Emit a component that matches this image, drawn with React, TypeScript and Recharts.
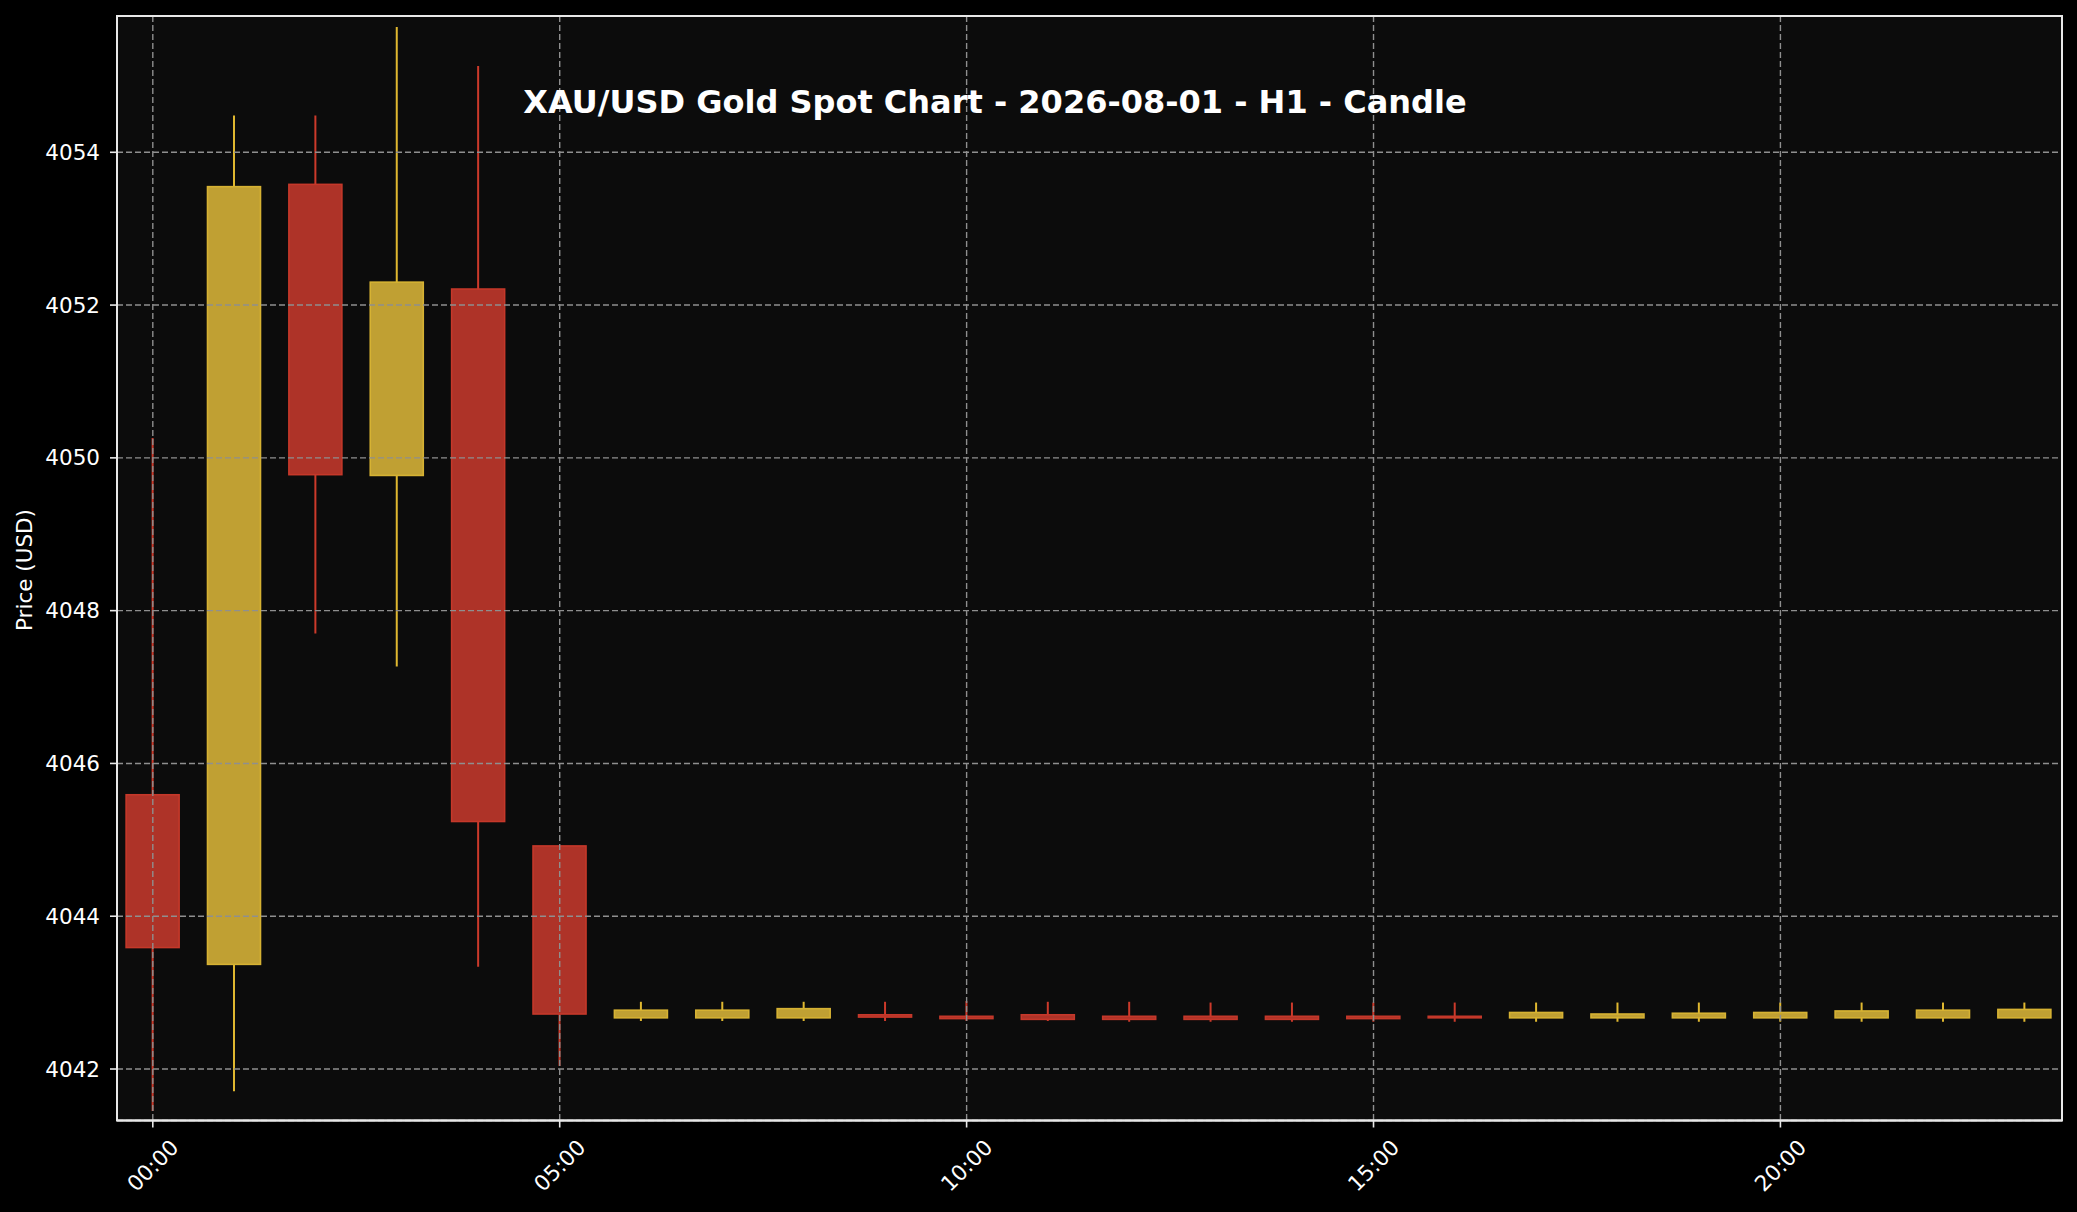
import { ComposedChart, Bar, XAxis, YAxis, CartesianGrid } from 'recharts'

const hours = [0, 1, 2, 3, 4, 5, 6, 7, 8, 9, 10, 11, 12, 13, 14, 15, 16, 17, 18, 19, 20, 21, 22, 23]
const opens = [4045.59, 4043.37, 4053.58, 4049.77, 4052.21, 4044.92, 4042.67, 4042.67, 4042.67, 4042.71, 4042.69, 4042.71, 4042.69, 4042.69, 4042.69, 4042.69, 4042.69, 4042.67, 4042.67, 4042.67, 4042.67, 4042.67, 4042.67, 4042.67]
const highs = [4050.26, 4054.48, 4054.48, 4055.64, 4055.13, 4044.92, 4042.88, 4042.88, 4042.88, 4042.88, 4042.89, 4042.88, 4042.88, 4042.87, 4042.87, 4042.87, 4042.87, 4042.87, 4042.87, 4042.87, 4042.87, 4042.87, 4042.87, 4042.87]
const lows = [4041.45, 4041.71, 4047.7, 4047.27, 4043.34, 4042.04, 4042.63, 4042.63, 4042.63, 4042.63, 4042.63, 4042.63, 4042.62, 4042.62, 4042.62, 4042.62, 4042.62, 4042.62, 4042.62, 4042.62, 4042.62, 4042.62, 4042.62, 4042.62]
const closes = [4043.59, 4053.55, 4049.78, 4052.3, 4045.24, 4042.72, 4042.77, 4042.77, 4042.79, 4042.68, 4042.66, 4042.65, 4042.65, 4042.65, 4042.65, 4042.66, 4042.67, 4042.74, 4042.72, 4042.73, 4042.74, 4042.76, 4042.77, 4042.78]

const xTicks = [0, 5, 10, 15, 20]
const yTicks = [4042, 4044, 4046, 4048, 4050, 4052, 4054]
const xDomain = [-0.44, 23.46]
const yDomain = [4041.326, 4055.784]

const title = 'XAU/USD Gold Spot Chart - 2026-08-01 - H1 - Candle'
const yLabel = 'Price (USD)'

const data = hours.map((h, i) => ({
  hour: h,
  open: opens[i],
  high: highs[i],
  low: lows[i],
  close: closes[i],
}))

const FONT = '"DejaVu Sans", sans-serif'
const UP = { fill: '#c0a033', edge: '#d6b233', wick: '#e0b830' }
const DOWN = { fill: '#ae3328', edge: '#c5382a', wick: '#cc3a2b' }

// plot frame (matplotlib spines)
const PLOT = { left: 117, top: 16, right: 2062, bottom: 1120.5 }

function Candle(props: any) {
  const { x, y, width, height, payload } = props
  if (payload == null || x == null) return null
  const top = Math.min(y, y + height)
  const h = Math.abs(height)
  const range = payload.high - payload.low
  const toPx = (p: number) => (range === 0 ? top : top + ((payload.high - p) / range) * h)
  const c = payload.close >= payload.open ? UP : DOWN
  const cx = x + width / 2
  const bodyTop = toPx(Math.max(payload.open, payload.close))
  const bodyBottom = toPx(Math.min(payload.open, payload.close))
  return (
    <g>
      <line x1={cx} x2={cx} y1={top} y2={top + h} stroke={c.wick} strokeWidth={2} />
      <rect
        x={x}
        y={bodyTop}
        width={width}
        height={Math.max(bodyBottom - bodyTop, 0.5)}
        fill={c.fill}
        stroke={c.edge}
        strokeWidth={1.6}
      />
    </g>
  )
}

function XTick({ x, y, payload }: any) {
  const cy = y + 36
  const hh = String(payload.value).padStart(2, '0')
  return (
    <text
      x={x}
      y={cy}
      fill="#ffffff"
      fontSize={21.5}
      fontFamily={FONT}
      textAnchor="middle"
      dominantBaseline="central"
      transform={`rotate(-45, ${x}, ${cy})`}
    >
      {`${hh}:00`}
    </text>
  )
}

export default function App() {
  return (
    <div style={{ position: 'relative', width: 2077, height: 1212, background: '#000' }}>
      <style>{'body{margin:0;background:#000}'}</style>
      <ComposedChart width={2077} height={1212} data={data} margin={{ top: 16, right: 15, bottom: 0, left: 0 }}>
        <CartesianGrid fill="#0c0c0c" horizontal={false} vertical={false} />
        <XAxis
          dataKey="hour"
          type="number"
          domain={xDomain}
          ticks={xTicks}
          allowDataOverflow
          height={91.5}
          tickSize={7}
          tickMargin={2}
          tick={<XTick />}
          axisLine={{ stroke: '#e8e8e8', strokeWidth: 2 }}
          tickLine={{ stroke: '#e8e8e8', strokeWidth: 1.6 }}
        />
        <YAxis
          type="number"
          domain={yDomain}
          ticks={yTicks}
          allowDataOverflow
          width={117}
          tickSize={7}
          tickMargin={10}
          tick={{ fill: '#ffffff', fontSize: 21.5, fontFamily: FONT }}
          axisLine={{ stroke: '#e8e8e8', strokeWidth: 2 }}
          tickLine={{ stroke: '#e8e8e8', strokeWidth: 1.6 }}
        />
        <Bar
          dataKey={(d: any) => [d.low, d.high]}
          barSize={53}
          shape={<Candle />}
          isAnimationActive={false}
        />
        <CartesianGrid
          stroke="#8f8f8f"
          strokeWidth={1.4}
          strokeDasharray="6 3"
          fill="none"
          horizontalPoints={undefined}
          zIndex={350}
        />
      </ComposedChart>
      <svg
        width={2077}
        height={1212}
        style={{ position: 'absolute', left: 0, top: 0, pointerEvents: 'none' }}
      >
        <rect
          x={PLOT.left}
          y={PLOT.top}
          width={PLOT.right - PLOT.left}
          height={PLOT.bottom - PLOT.top}
          fill="none"
          stroke="#e8e8e8"
          strokeWidth={2}
        />
        <text x={995} y={112.7} fill="#ffffff" fontSize={32} fontWeight="bold" fontFamily={FONT} textAnchor="middle">
          {title}
        </text>
        <text
          x={24}
          y={570}
          fill="#ffffff"
          fontSize={21.5}
          fontFamily={FONT}
          textAnchor="middle"
          dominantBaseline="central"
          transform="rotate(-90, 24, 570)"
        >
          {yLabel}
        </text>
      </svg>
    </div>
  )
}
